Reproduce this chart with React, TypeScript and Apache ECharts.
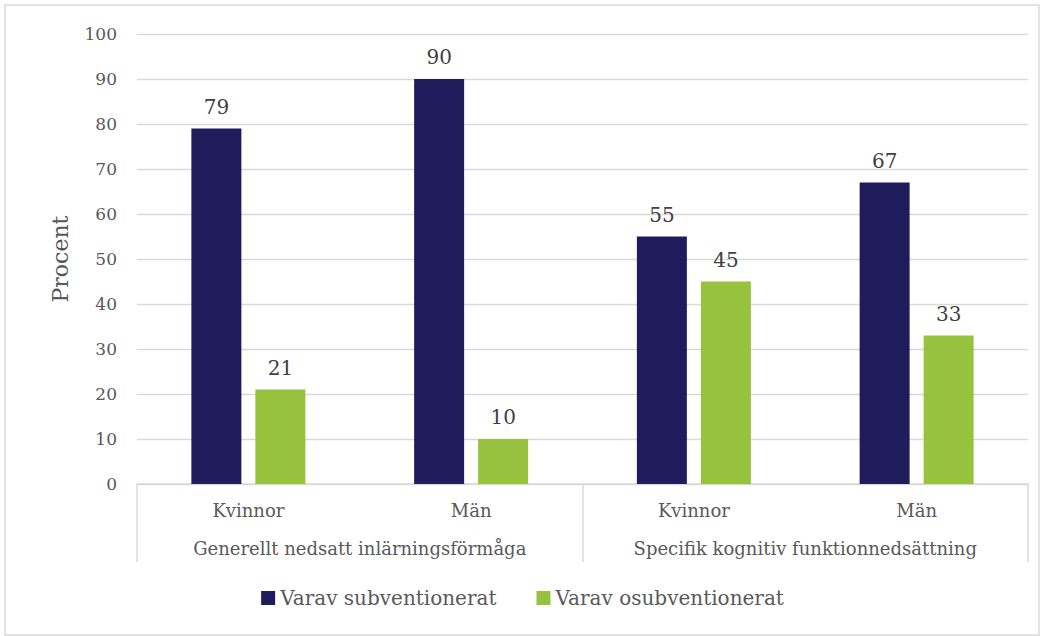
import React, { useEffect, useRef } from "react";
import * as echarts from "echarts";

const groups = ["Generellt nedsatt inlärningsförmåga", "Specifik kognitiv funktionnedsättning"];
const categories = ["Kvinnor", "Män", "Kvinnor", "Män"];
const subventionerat = [79, 90, 55, 67];
const osubventionerat = [21, 10, 45, 33];
const seriesNames = ["Varav subventionerat", "Varav osubventionerat"];

const FONT = "DejaVu Serif";
const TXT = "#595959";
const GRID = "#d9d9d9";

export default function App() {
  const ref = useRef<HTMLDivElement>(null);
  useEffect(() => {
    const chart = echarts.init(ref.current!, null, { renderer: "svg" });
    chart.setOption({
      animation: false,
      textStyle: { fontFamily: FONT },
      grid: { left: 137, right: 17, top: 34, bottom: 152 },
      graphic: [
        {
          type: "rect",
          shape: { x: 5, y: 5, width: 1034, height: 630 },
          style: { fill: "none", stroke: GRID, lineWidth: 1.5 },
          silent: true,
        },
      ],
      legend: {
        bottom: 23,
        left: "center",
        itemWidth: 14,
        itemHeight: 14,
        itemGap: 40,
        icon: "rect",
        textStyle: { fontFamily: FONT, fontSize: 20, color: TXT },
        data: seriesNames,
      },
      xAxis: [
        {
          type: "category",
          data: categories,
          axisLine: { show: true, lineStyle: { color: GRID, width: 1.5 } },
          axisTick: { show: false },
          axisLabel: { interval: 0, color: TXT, fontSize: 18, fontFamily: FONT, margin: 17 },
        },
        {
          type: "category",
          data: groups,
          position: "bottom",
          axisLine: { show: false },
          axisTick: { show: true, interval: 0, length: 78, alignWithLabel: false, lineStyle: { color: GRID, width: 1.5 } },
          axisLabel: { interval: 0, hideOverlap: false, color: TXT, fontSize: 18, fontFamily: FONT, margin: 55 },
          splitLine: { show: false },
        },
      ],
      yAxis: {
        type: "value",
        min: 0,
        max: 100,
        interval: 10,
        name: "Procent",
        nameLocation: "middle",
        nameGap: 66,
        nameTextStyle: { color: TXT, fontSize: 22, fontFamily: FONT },
        axisLine: { show: false },
        axisTick: { show: false },
        axisLabel: { color: TXT, fontSize: 17, fontFamily: FONT, margin: 20 },
        splitLine: { lineStyle: { color: GRID, width: 1.3 } },
      },
      series: [
        {
          name: seriesNames[0],
          type: "bar",
          data: subventionerat,
          itemStyle: { color: "#201c5c" },
          barWidth: 50,
          barGap: "28%",
          label: { show: true, position: "top", distance: 12, color: "#404040", fontSize: 20, fontFamily: FONT },
        },
        {
          name: seriesNames[1],
          type: "bar",
          data: osubventionerat,
          itemStyle: { color: "#97c23d" },
          barWidth: 50,
          label: { show: true, position: "top", distance: 12, color: "#404040", fontSize: 20, fontFamily: FONT },
        },
      ],
    });
    return () => chart.dispose();
  }, []);
  return (
    <div
      ref={ref}
      style={{ position: "fixed", left: 0, top: 0, width: 1045, height: 636, background: "#fff" }}
    />
  );
}
